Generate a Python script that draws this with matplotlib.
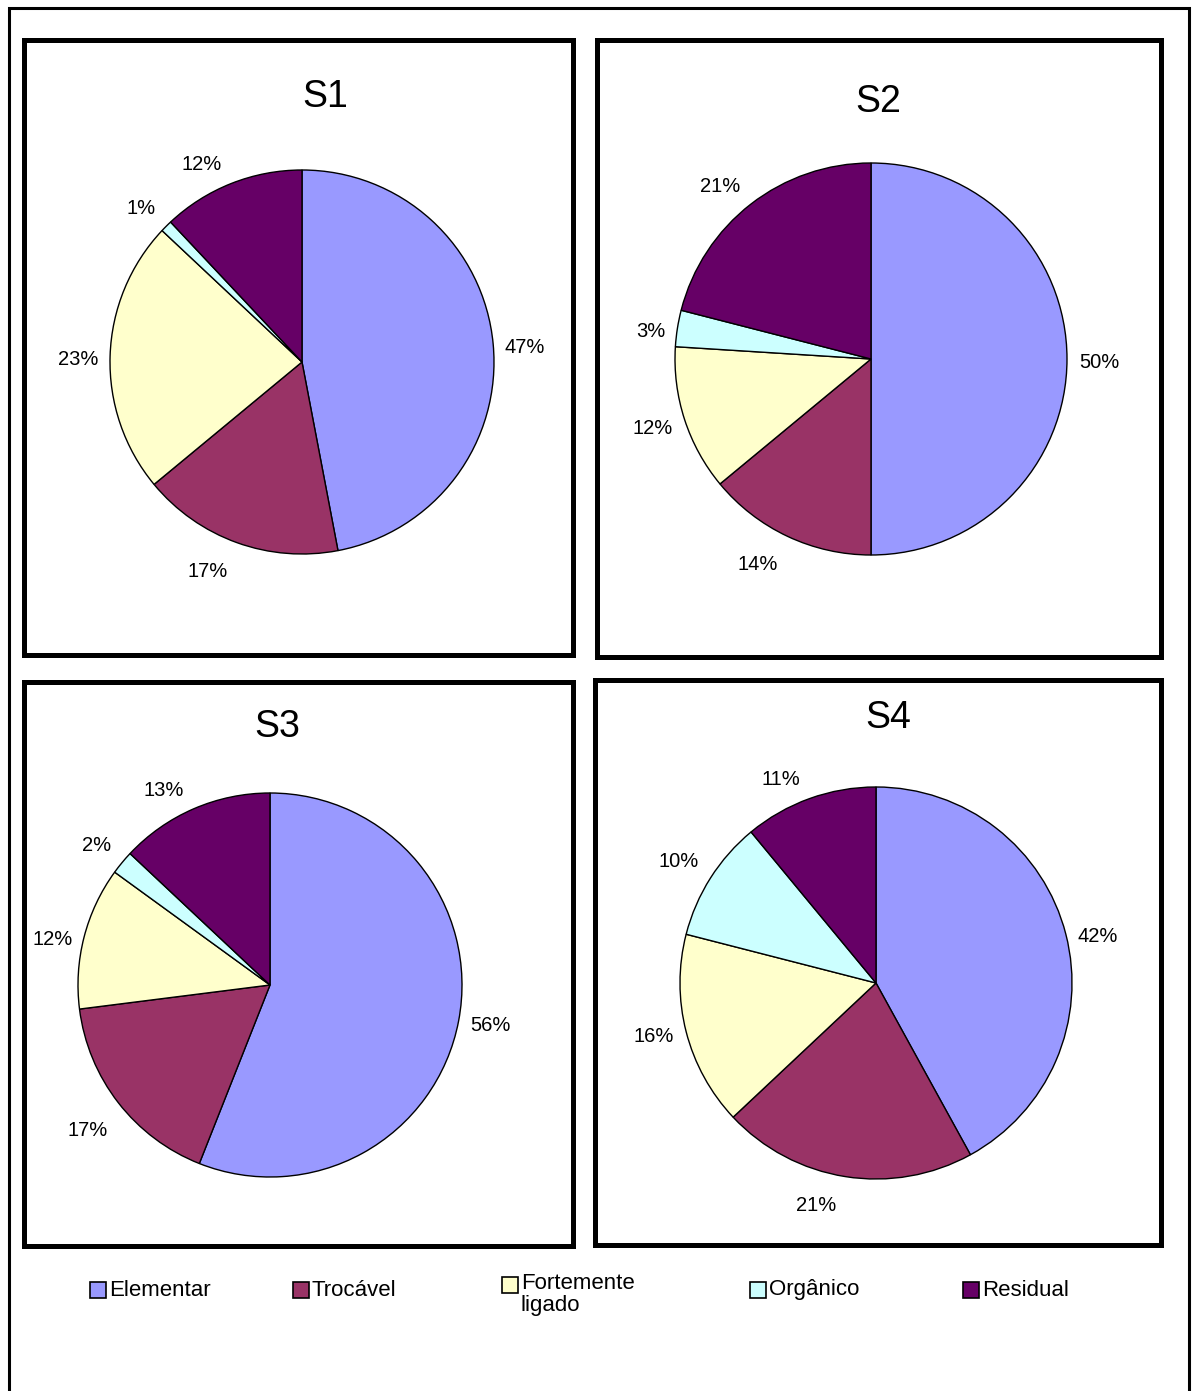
import numpy as np
import matplotlib
matplotlib.use("Agg")
import matplotlib.pyplot as plt
from matplotlib.patches import Rectangle

plt.rcParams['font.family'] = ['Liberation Sans', 'DejaVu Sans']

# Fractions of each sample
categories = ["Elementar", "Trocável", "Fortemente\nligado", "Orgânico", "Residual"]
colors = ["#9999FF", "#993366", "#FFFFCC", "#CCFFFF", "#660066"]
samples = ["S1", "S2", "S3", "S4"]
s1_values = [47, 17, 23, 1, 12]
s2_values = [50, 14, 12, 3, 21]
s3_values = [56, 17, 12, 2, 13]
s4_values = [42, 21, 16, 10, 11]
all_values = [s1_values, s2_values, s3_values, s4_values]

W, H = 1193, 1391
fig = plt.figure(figsize=(W / 100, H / 100), dpi=100)
fig.patch.set_facecolor("white")
renderer = fig.canvas.get_renderer()


def fx(x):
    return x / W


def fy(y):
    return 1 - y / H


def frame(x0, y0, x1, y1, lw):
    fig.add_artist(Rectangle((fx(x0), fy(y1)), fx(x1) - fx(x0), fy(y0) - fy(y1),
                             transform=fig.transFigure, fill=False,
                             edgecolor="black", linewidth=lw, zorder=0))


# outer frame
frame(9, 8, 1189, 1420, 2.2)

# panel frames: (left, top, right, bottom)
panels = [(24, 40, 573, 655), (597, 40, 1161, 657),
          (24, 682, 573, 1246), (595, 680, 1161, 1245)]
for p in panels:
    frame(*p, 3.6)

# pie centres, radii and title positions
centres = [(302, 362), (871, 359), (270, 985), (876, 983)]
radii = [192, 196, 192, 196]
titles = [(325, 97), (878, 102), (277, 727), (888, 718)]


def place_label(ax, wedge, text, r):
    """Put a percentage label just outside its wedge, box edge facing the pie."""
    mid = np.deg2rad(0.5 * (wedge.theta1 + wedge.theta2))
    ux, uy = np.cos(mid), np.sin(mid)          # data direction (y up)
    t = ax.text(0, 0, text, ha="center", va="center", fontsize=14.5,
                color="black", clip_on=False)
    bb = t.get_window_extent(renderer)
    w2, h2 = bb.width / 2, bb.height / 2
    d = 1.02 * r
    ex = np.sign(ux) * (w2 + 8) * min(1.0, abs(ux) / 0.1)
    gap_y = 9 if uy > 0 else 12
    ey = np.sign(uy) * (h2 + gap_y) * np.clip((abs(uy) - 0.25) / 0.3, 0, 1)
    px = d * ux + ex
    py = d * uy + ey - 3.5
    t.set_position((px / r, py / r))


for name, vals, (cx, cy), r, (tx, ty) in zip(samples, all_values, centres, radii, titles):
    ax = fig.add_axes([fx(cx - r), fy(cy + r), 2 * r / W, 2 * r / H])
    wedges, _ = ax.pie(vals, colors=colors, startangle=90, counterclock=False,
                       wedgeprops=dict(edgecolor="black", linewidth=1.0))
    ax.set_xlim(-1, 1)
    ax.set_ylim(-1, 1)
    ax.set_aspect("equal")
    ax.axis("off")
    total = sum(vals)
    for wdg, v in zip(wedges, vals):
        place_label(ax, wdg, f"{100 * v / total:.0f}%", r)
    fig.text(fx(tx), fy(ty), name, ha="center", va="center", fontsize=27)

# legend
legend_items = [(90, 1290), (293, 1290), (502, 1285), (750, 1290), (963, 1290)]
sq = 16
for label, col, (lx, ly) in zip(categories, colors, legend_items):
    fig.add_artist(Rectangle((fx(lx), fy(ly + sq / 2)), sq / W, sq / H,
                             transform=fig.transFigure, facecolor=col,
                             edgecolor="black", linewidth=1.2))
    two_lines = "\n" in label
    fig.text(fx(lx + sq + 3), fy(ly - 12) if two_lines else fy(ly), label,
             ha="left", va="top" if two_lines else "center",
             fontsize=16, linespacing=1.05)

fig.savefig("out.png", dpi=100, facecolor="white")
